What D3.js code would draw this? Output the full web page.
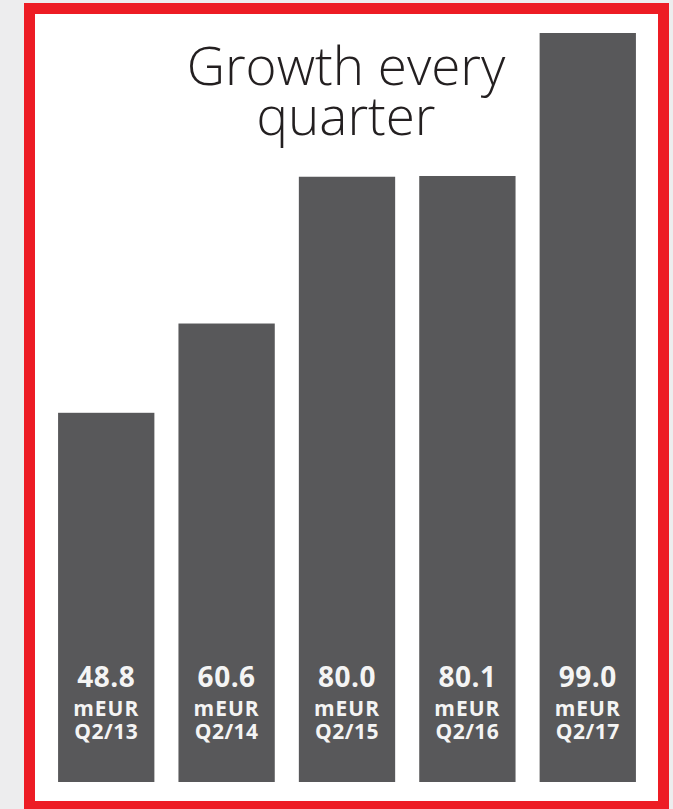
<!DOCTYPE html>
<html>
<head>
  <meta charset="utf-8">
  <title>Growth every quarter</title>
  <style>
    body { margin: 0; background: #ededee; }
    svg { display: block; }
    .title { font-family: "Open Sans", Lato, sans-serif; font-weight: 300; fill: #231f20; }
    .lbl { font-family: "Open Sans", sans-serif; font-weight: bold; fill: #f4f4f4; }
  </style>
  <script src="https://d3js.org/d3.v7.min.js"></script>
</head>
<body>
<script>
var quarters = ["Q2/13", "Q2/14", "Q2/15", "Q2/16", "Q2/17"];
var revenue = [48.8, 60.6, 80.0, 80.1, 99.0];
var unit = "mEUR";
var titleLines = ["Growth every", "quarter"];

var W = 673, H = 809;

var svg = d3.select("body").append("svg")
  .attr("width", W)
  .attr("height", H);

// white panel with red frame
svg.append("rect")
  .attr("x", 29.5).attr("y", 8.5)
  .attr("width", 634).attr("height", 798)
  .attr("fill", "#fff")
  .attr("stroke", "#ed1c24")
  .attr("stroke-width", 11);

var x = d3.scaleBand()
  .domain(quarters)
  .range([34, 660])
  .paddingInner(0.2)
  .paddingOuter(0.2);

var y = d3.scaleLinear()
  .domain([0, 99])
  .range([782, 33]);

var data = quarters.map(function(q, i) { return {q: q, v: revenue[i]}; });

svg.selectAll("rect.bar")
  .data(data)
  .enter().append("rect")
    .attr("class", "bar")
    .attr("x", function(d) { return x(d.q); })
    .attr("y", function(d) { return y(d.v); })
    .attr("width", x.bandwidth())
    .attr("height", function(d) { return y(0) - y(d.v); })
    .attr("fill", "#58585a");

var g = svg.selectAll("g.lbl")
  .data(data)
  .enter().append("g")
    .attr("class", "lbl")
    .attr("transform", function(d) { return "translate(" + (x(d.q) + x.bandwidth() / 2) + ",0)"; });

g.append("text")
  .attr("text-anchor", "middle")
  .attr("y", 686.5)
  .style("font-size", "28px")
  .style("letter-spacing", "0.5px")
  .text(function(d) { return d.v.toFixed(1); });

g.append("text")
  .attr("text-anchor", "middle")
  .attr("y", 715.5)
  .style("font-size", "21px")
  .style("letter-spacing", "1px")
  .text(unit);

g.append("text")
  .attr("text-anchor", "middle")
  .attr("y", 738.5)
  .style("font-size", "21px")
  .style("letter-spacing", "0.5px")
  .text(function(d) { return d.q; });

svg.selectAll("text.title")
  .data(titleLines)
  .enter().append("text")
    .attr("class", "title")
    .attr("x", 346)
    .attr("y", function(d, i) { return 85 + i * 50; })
    .attr("text-anchor", "middle")
    .style("font-size", "53px")
    .text(function(d) { return d; });
</script>
</body>
</html>
